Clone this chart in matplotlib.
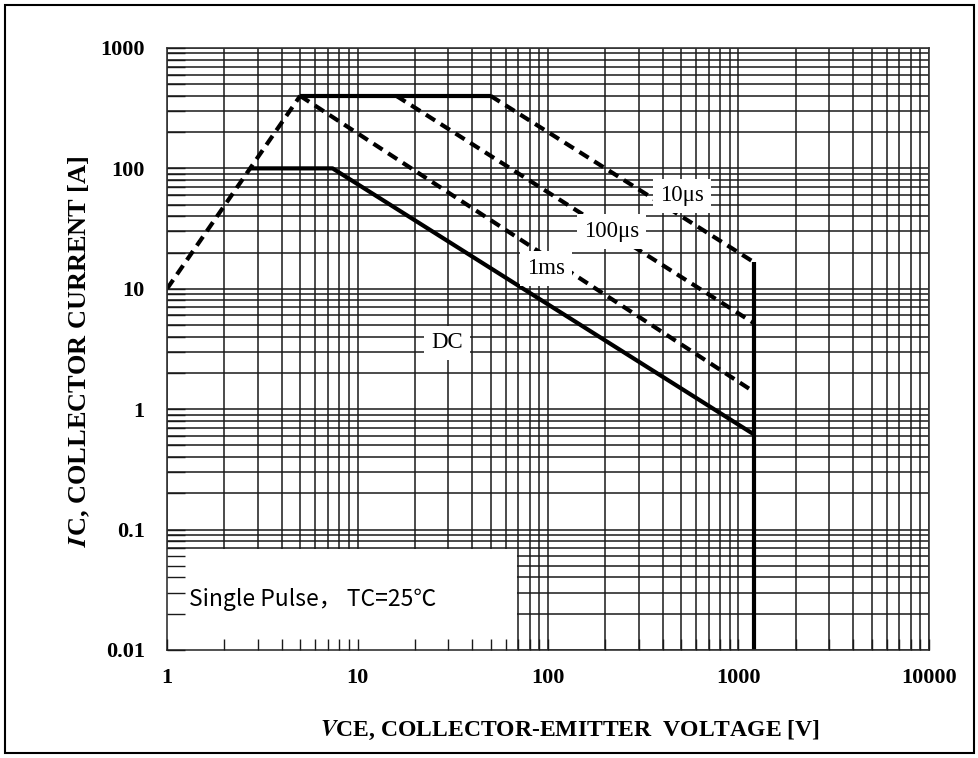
import numpy as np
import matplotlib
matplotlib.use("Agg")
import matplotlib.pyplot as plt
from matplotlib.patches import Rectangle

plt.rcParams['mathtext.fontset'] = 'stix'

# Safe operating area curves (VCE in V, IC in A)
ramp_v = [1.0, 5.0]
ramp_i = [10.0, 400.0]

peak_v = [5.0, 50.0]
peak_i = [400.0, 400.0]

t10us_v = [50.0, 1200.0]
t10us_i = [400.0, 16.7]

t100us_v = [16.0, 1200.0]
t100us_i = [400.0, 5.2]

t1ms_v = [5.0, 1200.0]
t1ms_i = [400.0, 1.4]

dc_v = [2.75, 7.4, 1200.0]
dc_i = [100.0, 100.0, 0.62]

vmax_v = [1200.0, 1200.0]
vmax_i = [0.01, 16.7]

curve_labels = ["10\u03bcs", "100\u03bcs", "1ms", "DC"]
label_v = [505.0, 215.0, 98.0, 29.5]
label_i = [59.0, 30.0, 14.8, 3.55]

x_ticks = [1, 10, 100, 1000, 10000]
x_ticklabels = ["1", "10", "100", "1000", "10000"]
y_ticks = [0.01, 0.1, 1, 10, 100, 1000]
y_ticklabels = ["0.01", "0.1", "1", "10", "100", "1000"]

fig = plt.figure(figsize=(9.79, 7.58), dpi=100)
ax = fig.add_axes([0.1706, 0.1425, 0.9489 - 0.1706, 0.9367 - 0.1425])
ax.set_xscale('log')
ax.set_yscale('log')
ax.set_xlim(1, 10000)
ax.set_ylim(0.01, 1000)

# full decade grid
grid_col = '#1a1a1a'
xg = [m * 10.0 ** k for k in range(0, 4) for m in range(1, 10)] + [10000]
yg = [m * 10.0 ** k for k in range(-2, 3) for m in range(1, 10)] + [1000]
ax.vlines(xg, 0.01, 1000, colors=grid_col, lw=1.1, zorder=0.5)
ax.hlines(yg, 1, 10000, colors=grid_col, lw=1.1, zorder=0.5)

# blank panel for the condition note
ax.add_patch(Rectangle((1, 0.01), 68, 0.059, facecolor='white',
                       edgecolor='none', zorder=1))

lw = 3.0
dash = (0, (2.6, 1.6))
ax.plot(ramp_v, ramp_i, color='black', lw=lw, linestyle=dash, zorder=2)
ax.plot(peak_v, peak_i, color='black', lw=lw, zorder=2, solid_capstyle='butt')
ax.plot(t10us_v, t10us_i, color='black', lw=lw, linestyle=dash, zorder=2)
ax.plot(t100us_v, t100us_i, color='black', lw=lw, linestyle=dash, zorder=2)
ax.plot(t1ms_v, t1ms_i, color='black', lw=lw, linestyle=dash, zorder=2)
ax.plot(dc_v, dc_i, color='black', lw=lw, zorder=2, solid_capstyle='butt')
ax.plot(vmax_v, vmax_i, color='black', lw=lw, zorder=2, solid_capstyle='butt')

for txt, xv, yv in zip(curve_labels, label_v, label_i):
    ax.text(xv, yv, txt, ha='center', va='center', fontsize=16.5,
            family='Liberation Serif', zorder=3,
            bbox=dict(facecolor='white', edgecolor='none', pad=5))

ax.text(1.3, 0.0265, "Single Pulse\uff0c TC=25\u2103", ha='left', va='center',
        fontsize=16.5, fontweight='medium',
        family=['Noto Sans CJK SC', 'DejaVu Sans'], zorder=3)

ax.set_axisbelow(False)
ax.set_xticks(x_ticks)
ax.set_xticklabels(x_ticklabels)
ax.set_yticks(y_ticks)
ax.set_yticklabels(y_ticklabels)
ax.tick_params(which='both', direction='in', color=grid_col, width=1.0)
ax.tick_params(axis='x', which='both', length=8, pad=13)
ax.tick_params(axis='y', which='both', length=13, pad=16)
for lab in ax.get_xticklabels() + ax.get_yticklabels():
    lab.set_fontfamily('Liberation Serif')
    lab.set_fontweight('bold')
    lab.set_fontsize(16)

for sp in ax.spines.values():
    sp.set_color('#333333')
    sp.set_linewidth(1.2)

ax.set_xlabel(r"$\mathbfit{V}$CE, COLLECTOR-EMITTER  VOLTAGE [V]",
              fontfamily='Liberation Serif', fontweight='bold', fontsize=17)
ax.xaxis.set_label_coords(0.529, -0.115)
ax.set_ylabel(r"$\mathbfit{I}$C, COLLECTOR CURRENT [A]",
              fontfamily='Liberation Serif', fontweight='bold', fontsize=19)
ax.yaxis.set_label_coords(-0.098, 0.497)

# outer frame
fig.add_artist(Rectangle((0.005, 0.006), 0.99, 0.988, transform=fig.transFigure,
                         facecolor='none', edgecolor='black', lw=1.5))

fig.savefig('out.png', dpi=100)
